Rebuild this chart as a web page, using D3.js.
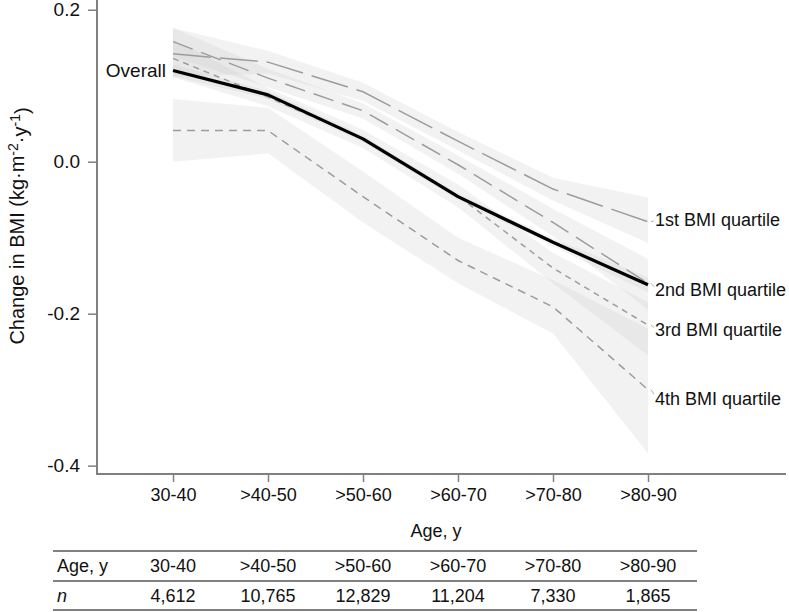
<!DOCTYPE html>
<html><head><meta charset="utf-8">
<script src="https://cdn.jsdelivr.net/npm/d3@7"></script>
<style>
body{margin:0;background:#fff;}
text{font-family:"Liberation Sans",Arial,sans-serif;fill:#111;}
</style></head>
<body><svg id="c" width="789" height="612"></svg>
<script>
const categories = ["30-40", ">40-50", ">50-60", ">60-70", ">70-80", ">80-90"];
const counts = ["4,612", "10,765", "12,829", "11,204", "7,330", "1,865"];
const yTicks = [-0.4, -0.2, 0.0, 0.2];

const overallMid = [0.120, 0.088, 0.030, -0.046, -0.106, -0.162];
const overallLo  = [0.112, 0.083, 0.026, -0.050, -0.111, -0.172];
const overallHi  = [0.128, 0.093, 0.034, -0.042, -0.101, -0.152];

const q1Mid = [0.142, 0.131, 0.092, 0.027, -0.036, -0.079];
const q1Lo  = [0.112, 0.116, 0.080, 0.015, -0.051, -0.107];
const q1Hi  = [0.176, 0.146, 0.104, 0.039, -0.021, -0.047];

const q2Mid = [0.158, 0.110, 0.067, -0.004, -0.080, -0.160];
const q2Lo  = [0.138, 0.098, 0.057, -0.016, -0.098, -0.195];
const q2Hi  = [0.176, 0.122, 0.077, 0.008, -0.062, -0.128];

const q3Mid = [0.136, 0.085, 0.030, -0.045, -0.140, -0.215];
const q3Lo  = [0.111, 0.073, 0.018, -0.060, -0.160, -0.255];
const q3Hi  = [0.161, 0.097, 0.042, -0.030, -0.120, -0.185];

const q4Mid = [0.041, 0.041, -0.046, -0.130, -0.191, -0.300];
const q4Lo  = [0.000, 0.011, -0.080, -0.160, -0.226, -0.384];
const q4Hi  = [0.0825, 0.071, -0.013, -0.100, -0.156, -0.220];

const seriesNames = ["1st BMI quartile", "2nd BMI quartile", "3rd BMI quartile", "4th BMI quartile"];

const svg = d3.select("#c");
const x = d3.scalePoint().domain(categories).range([173, 648]);
const y = d3.scaleLinear().domain([-0.411, 0.2128]).range([474, 0]);

// bands
const bands = [
  {lo: q1Lo, hi: q1Hi}, {lo: q2Lo, hi: q2Hi}, {lo: q3Lo, hi: q3Hi},
  {lo: q4Lo, hi: q4Hi}, {lo: overallLo, hi: overallHi}
];
const area = d3.area().x((d) => x(d.c)).y0((d) => y(d.lo)).y1((d) => y(d.hi));
bands.forEach(b => {
  const pts = categories.map((c, i) => ({c, lo: b.lo[i], hi: b.hi[i]}));
  svg.append("path").attr("d", area(pts)).attr("fill", "#c8c8c8").attr("fill-opacity", 0.24);
});

const line = d3.line().x(d => x(d.c)).y(d => y(d.v));
const quartiles = [
  {mid: q1Mid, dash: "38,9", label: seriesNames[0], ly: 220},
  {mid: q2Mid, dash: "21,9", label: seriesNames[1], ly: 290},
  {mid: q3Mid, dash: "6,5", label: seriesNames[2], ly: 330},
  {mid: q4Mid, dash: "8,6", label: seriesNames[3], ly: 399}
];
quartiles.forEach(s => {
  const pts = categories.map((c, i) => ({c, v: s.mid[i]}));
  svg.append("path").attr("d", line(pts)).attr("fill", "none")
    .attr("stroke", "#9c9c9c").attr("stroke-width", 1.5).attr("stroke-dasharray", s.dash);
  const last = categories.length - 1;
  svg.append("line").attr("x1", x(categories[last]) + 3).attr("x2", x(categories[last]) + 6)
    .attr("y1", y(s.mid[last])).attr("y2", (y(s.mid[last]) + s.ly) / 2)
    .attr("stroke", "#b0b0b0").attr("stroke-width", 1);
  svg.append("text").attr("x", 655).attr("y", s.ly).attr("dy", "0.35em")
    .attr("font-size", 18).text(s.label);
});

// overall
svg.append("path").attr("d", line(categories.map((c, i) => ({c, v: overallMid[i]}))))
  .attr("fill", "none").attr("stroke", "#000").attr("stroke-width", 3.2)
  .attr("stroke-linejoin", "round");
svg.append("text").attr("x", 166).attr("y", y(overallMid[0])).attr("dy", "0.35em")
  .attr("text-anchor", "end").attr("font-size", 19).text("Overall");

// axes
const axisColor = "#808080";
const fmt = d3.format(".1f");
const yAxis = svg.append("g").attr("transform", "translate(97,0)")
  .call(d3.axisLeft(y).tickValues(yTicks).tickFormat(d => fmt(d).replace("\u2212", "-"))
    .tickSize(9).tickPadding(8).tickSizeOuter(0));
yAxis.select(".domain").remove();
yAxis.selectAll(".tick line").attr("stroke", axisColor).attr("stroke-width", 1.5);
yAxis.selectAll(".tick text").attr("font-size", 19).attr("fill", "#111")
  .style("font-family", "Liberation Sans, Arial, sans-serif");

const xAxis = svg.append("g").attr("transform", "translate(0,474)")
  .call(d3.axisBottom(x).tickSize(8).tickPadding(6).tickSizeOuter(0));
xAxis.select(".domain").remove();
xAxis.selectAll(".tick line").attr("stroke", axisColor).attr("stroke-width", 1.5);
xAxis.selectAll(".tick text").attr("font-size", 18).attr("fill", "#111")
  .style("font-family", "Liberation Sans, Arial, sans-serif");

svg.append("line").attr("x1", 97).attr("x2", 97).attr("y1", 0).attr("y2", 474.5)
  .attr("stroke", axisColor).attr("stroke-width", 2);
svg.append("line").attr("x1", 96).attr("x2", 786).attr("y1", 474).attr("y2", 474)
  .attr("stroke", axisColor).attr("stroke-width", 2);

// axis titles
svg.append("text").attr("x", 436).attr("y", 531).attr("dy", "0.35em")
  .attr("text-anchor", "middle").attr("font-size", 18).text("Age, y");

const yt = svg.append("text").attr("transform", "translate(17,226) rotate(-90)")
  .attr("text-anchor", "middle").attr("dy", "0.35em").attr("font-size", 20);
yt.append("tspan").text("Change in BMI (kg·m");
yt.append("tspan").attr("dy", "-0.45em").attr("font-size", 14).text("-2");
yt.append("tspan").attr("dy", "0.45em").text("·y");
yt.append("tspan").attr("dy", "-0.45em").attr("font-size", 14).text("-1");
yt.append("tspan").attr("dy", "0.45em").text(")");

// table
const tableLines = [551, 581, 610];
tableLines.forEach(ly => svg.append("line").attr("x1", 53).attr("x2", 697)
  .attr("y1", ly).attr("y2", ly).attr("stroke", axisColor).attr("stroke-width", 2));
svg.append("text").attr("x", 57).attr("y", 566).attr("dy", "0.35em").attr("font-size", 18).text("Age, y");
svg.append("text").attr("x", 57).attr("y", 596).attr("dy", "0.35em").attr("font-size", 18)
  .attr("font-style", "italic").text("n");
categories.forEach((c, i) => {
  svg.append("text").attr("x", x(c)).attr("y", 566).attr("dy", "0.35em")
    .attr("text-anchor", "middle").attr("font-size", 18).text(c);
  svg.append("text").attr("x", x(c)).attr("y", 596).attr("dy", "0.35em")
    .attr("text-anchor", "middle").attr("font-size", 18).text(counts[i]);
});
</script></body></html>
